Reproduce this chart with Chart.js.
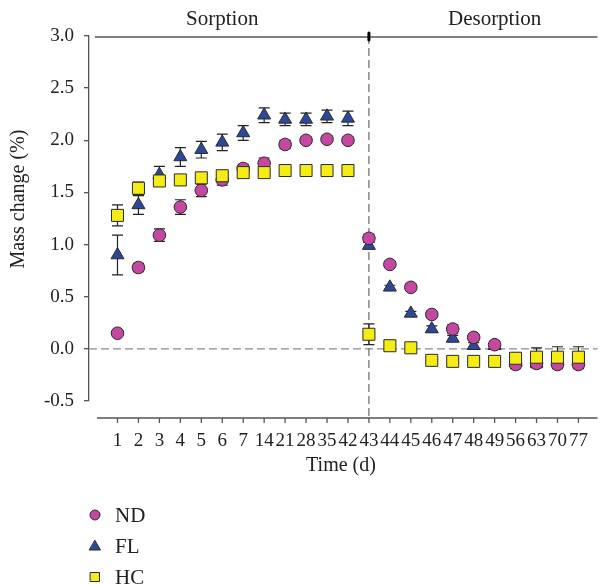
<!DOCTYPE html>
<html>
<head>
<meta charset="utf-8">
<script src="https://cdn.jsdelivr.net/npm/chart.js@4.4.1/dist/chart.umd.min.js"></script>
<style>
  html, body { margin: 0; padding: 0; background: #fff; }
  #wrap { width: 607px; height: 585px; }
</style>
</head>
<body>
<div id="wrap"><canvas id="massChart" width="607" height="585"></canvas></div>
<script>
// ---------------- data ----------------
var timeLabels = ['1', '2', '3', '4', '5', '6', '7', '14', '21', '28', '35', '42',
  '43', '44', '45', '46', '47', '48', '49', '56', '63', '70', '77'];

var ndValues = [0.15, 0.78, 1.09, 1.36, 1.52, 1.62, 1.73, 1.78, 1.96, 2.00, 2.01, 2.00,
  1.06, 0.81, 0.59, 0.33, 0.19, 0.11, 0.04, -0.15, -0.14, -0.15, -0.15];
var ndErr = [0.02, 0.04, 0.06, 0.07, 0.06, 0.05, 0.04, 0.05, 0.04, 0.03, 0.03, 0.03,
  0.04, 0.03, 0.03, 0.03, 0.04, 0.03, 0.03, 0.04, 0.04, 0.04, 0.04];

var flValues = [0.90, 1.38, 1.67, 1.84, 1.91, 1.98, 2.07, 2.24, 2.20, 2.20, 2.23, 2.21,
  0.99, 0.59, 0.34, 0.19, 0.10, 0.03, 0.03, -0.13, -0.14, -0.12, -0.12];
var flErr = [0.19, 0.09, 0.08, 0.09, 0.08, 0.08, 0.07, 0.07, 0.06, 0.06, 0.06, 0.07,
  0.03, 0.02, 0.02, 0.03, 0.03, 0.03, 0.03, 0.04, 0.04, 0.04, 0.04];

var hcValues = [1.28, 1.54, 1.61, 1.62, 1.64, 1.66, 1.69, 1.69, 1.71, 1.71, 1.71, 1.71,
  0.14, 0.03, 0.01, -0.11, -0.12, -0.12, -0.12, -0.09, -0.08, -0.08, -0.08];
var hcErr = [0.10, 0.06, 0.03, 0.03, 0.03, 0.03, 0.03, 0.02, 0.02, 0.02, 0.02, 0.02,
  0.10, 0.02, 0.02, 0.02, 0.02, 0.02, 0.02, 0.05, 0.09, 0.10, 0.10];

var yTicks = [-0.5, 0.0, 0.5, 1.0, 1.5, 2.0, 2.5, 3.0];
var desorptionStart = 12; // index of day 43

var serif = "'Liberation Serif', 'DejaVu Serif', serif";
var textColor = '#222';

function toPoints(vals) {
  return vals.map(function (v, i) { return { x: i, y: v }; });
}

// error bars, reference lines, axis titles and legend
var decorPlugin = {
  id: 'decor',
  beforeDatasetsDraw: function (chart) {
    var ctx = chart.ctx, a = chart.chartArea;
    var xs = chart.scales.x, ys = chart.scales.y;
    ctx.save();
    // zero line
    ctx.strokeStyle = '#8a8a8a';
    ctx.lineWidth = 1.2;
    ctx.setLineDash([8, 4]);
    ctx.beginPath();
    ctx.moveTo(a.left, ys.getPixelForValue(0));
    ctx.lineTo(a.right, ys.getPixelForValue(0));
    ctx.stroke();
    // sorption / desorption divider
    var dx = xs.getPixelForValue(desorptionStart);
    ctx.strokeStyle = '#6a6a6a';
    ctx.beginPath();
    ctx.moveTo(dx, a.top);
    ctx.lineTo(dx, a.bottom + 17);
    ctx.stroke();
    ctx.setLineDash([]);
    // top line
    ctx.strokeStyle = '#555';
    ctx.lineWidth = 1.3;
    ctx.beginPath();
    ctx.moveTo(a.left + 6, a.top + 1);
    ctx.lineTo(a.right, a.top + 1);
    ctx.stroke();

    // error bars
    ctx.strokeStyle = '#222';
    ctx.lineWidth = 1.2;
    chart.data.datasets.forEach(function (ds) {
      ds.data.forEach(function (p, i) {
        var e = ds.errors[i];
        var px = xs.getPixelForValue(p.x);
        var y1 = ys.getPixelForValue(p.y + e);
        var y2 = ys.getPixelForValue(p.y - e);
        ctx.beginPath();
        ctx.moveTo(px, y1); ctx.lineTo(px, y2);
        ctx.moveTo(px - 5.5, y1); ctx.lineTo(px + 5.5, y1);
        ctx.moveTo(px - 5.5, y2); ctx.lineTo(px + 5.5, y2);
        ctx.stroke();
      });
    });
    ctx.restore();
  },
  afterDraw: function (chart) {
    var ctx = chart.ctx, a = chart.chartArea;
    var xs = chart.scales.x;
    ctx.save();
    // detached x axis
    var axY = a.bottom + 17;
    ctx.strokeStyle = '#555';
    ctx.lineWidth = 1.3;
    ctx.beginPath();
    ctx.moveTo(a.left + 8, axY);
    ctx.lineTo(a.right, axY);
    timeLabels.forEach(function (t, i) {
      var px = xs.getPixelForValue(i);
      ctx.moveTo(px, axY);
      ctx.lineTo(px, axY + 5);
    });
    ctx.stroke();

    // blob at top of divider
    var dx = xs.getPixelForValue(desorptionStart);
    ctx.strokeStyle = '#000';
    ctx.lineWidth = 3;
    ctx.lineCap = 'round';
    ctx.beginPath();
    ctx.moveTo(dx, a.top - 3);
    ctx.lineTo(dx, a.top + 4);
    ctx.stroke();

    // phase labels
    ctx.fillStyle = textColor;
    ctx.font = '21px ' + serif;
    ctx.textAlign = 'center';
    ctx.textBaseline = 'middle';
    ctx.fillText('Sorption', xs.getPixelForValue(5), 19);
    ctx.fillText('Desorption', xs.getPixelForValue(18), 19);

    // axis titles
    ctx.font = '20px ' + serif;
    ctx.fillText('Time (d)', 341, 466);
    ctx.save();
    ctx.translate(19, 199);
    ctx.rotate(-Math.PI / 2);
    ctx.fillText('Mass change (%)', 0, 0);
    ctx.restore();

    // legend
    var items = chart.data.datasets.slice().sort(function (p, q) { return p.legendIndex - q.legendIndex; });
    ctx.textAlign = 'left';
    ctx.font = '21px ' + serif;
    items.forEach(function (ds, k) {
      var cy = 515 + k * 31;
      var cx = 95;
      ctx.fillStyle = ds.backgroundColor;
      ctx.strokeStyle = '#2b2b2b';
      ctx.lineWidth = 1;
      ctx.beginPath();
      if (ds.pointStyle === 'circle') {
        ctx.arc(cx, cy, 5, 0, Math.PI * 2);
      } else if (ds.pointStyle === 'triangle') {
        ctx.moveTo(cx, cy - 5.5);
        ctx.lineTo(cx + 5.5, cy + 4);
        ctx.lineTo(cx - 5.5, cy + 4);
        ctx.closePath();
      } else {
        ctx.rect(cx - 4.5, cy - 4.5, 9, 9);
      }
      ctx.fill();
      ctx.stroke();
      ctx.fillStyle = textColor;
      ctx.fillText(ds.label, 115, cy + 1);
    });
    ctx.restore();
  }
};

var ctx = document.getElementById('massChart').getContext('2d');
var massChart = new Chart(ctx, {
  type: 'scatter',
  data: {
    datasets: [{
      label: 'ND',
      legendIndex: 0,
      order: 2,
      data: toPoints(ndValues),
      errors: ndErr,
      pointStyle: 'circle',
      pointRadius: 6.3,
      backgroundColor: 'rgb(196, 72, 160)',
      borderColor: '#2b2b2b',
      borderWidth: 1
    }, {
      label: 'FL',
      legendIndex: 1,
      order: 3,
      data: toPoints(flValues),
      errors: flErr,
      pointStyle: 'triangle',
      pointRadius: 7.5,
      backgroundColor: 'rgb(45, 72, 152)',
      borderColor: '#2b2b2b',
      borderWidth: 1
    }, {
      label: 'HC',
      legendIndex: 2,
      order: 1,
      data: toPoints(hcValues),
      errors: hcErr,
      pointStyle: 'rect',
      pointRadius: 8.5,
      backgroundColor: 'rgb(245, 236, 20)',
      borderColor: '#2b2b2b',
      borderWidth: 1
    }]
  },
  options: {
    responsive: false,
    animation: false,
    devicePixelRatio: 1,
    layout: { padding: { top: 36, left: 0, right: 0, bottom: 0 } },
    plugins: {
      legend: { display: false },
      tooltip: { enabled: false }
    },
    scales: {
      x: {
        type: 'linear',
        min: -1.36,
        max: 22.91,
        afterFit: function (scale) {
          scale.height = 184;
          scale.paddingLeft = 0;
          scale.paddingRight = 0;
        },
        grid: { display: false, drawTicks: false },
        border: { display: false },
        ticks: {
          stepSize: 1,
          autoSkip: false,
          maxRotation: 0,
          includeBounds: false,
          padding: 29,
          color: textColor,
          font: { family: serif, size: 19 },
          callback: function (v) {
            return (Number.isInteger(v) && v >= 0 && v < timeLabels.length) ? timeLabels[v] : '';
          }
        }
      },
      y: {
        min: -0.5,
        max: 3.0,
        afterFit: function (scale) { scale.width = 89; },
        afterBuildTicks: function (scale) {
          scale.ticks = yTicks.map(function (v) { return { value: v }; });
        },
        grid: { drawOnChartArea: false, drawTicks: true, tickLength: 5, color: '#555', lineWidth: 1.3 },
        border: { display: true, color: '#555', width: 1.3 },
        ticks: {
          padding: 10,
          color: textColor,
          font: { family: serif, size: 19 },
          callback: function (v) { return v.toFixed(1); }
        }
      }
    }
  },
  plugins: [decorPlugin]
});
</script>
</body>
</html>
